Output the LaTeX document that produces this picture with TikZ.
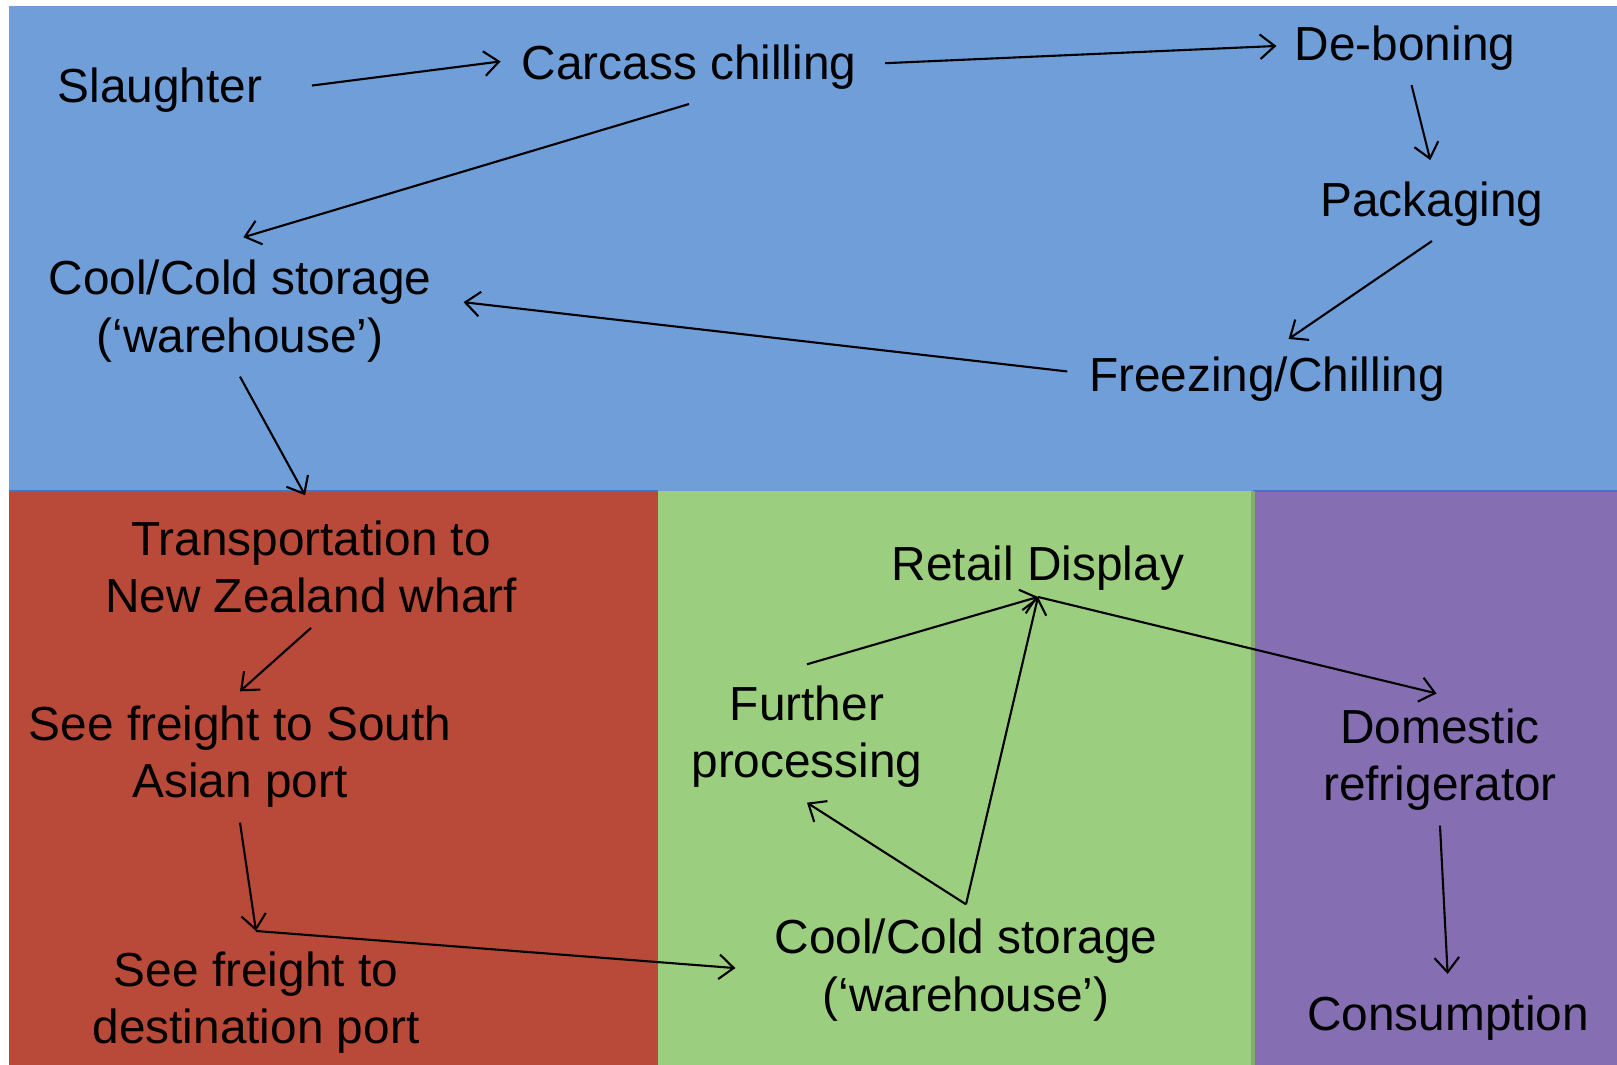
\documentclass[tikz,border=0pt]{standalone}
\usepackage{fontspec}
\setmainfont{Liberation Sans}
\usetikzlibrary{arrows.meta}

\definecolor{plantblue}{RGB}{111,158,216}
\definecolor{shipred}{RGB}{185,74,57}
\definecolor{shopgreen}{RGB}{155,206,127}
\definecolor{homepurple}{RGB}{133,111,178}
\definecolor{rimblue}{RGB}{68,114,196}
\definecolor{rimgreen}{RGB}{128,176,104}

\tikzset{
  stage/.style={font=\fontsize{13.6}{16.3}\selectfont, align=center, inner sep=4pt},
  flow/.style={-{Straight Barb[length=4.2pt,width=7pt]}, line width=0.6pt},
}

\begin{document}
\begin{tikzpicture}[x=0.1mm,y=-0.1mm]

\useasboundingbox (0,0) rectangle (1617,1065) ;

\fill[plantblue] (9,6) rectangle (1617,491) ;
\fill[shipred] (9,491) rectangle (658,1065) ;
\fill[shopgreen] (658,491) rectangle (1253,1065) ;
\fill[homepurple] (1253,491) rectangle (1617,1065) ;
\draw[rimblue,line width=0.6pt] (9,491) -- (658,491) ;
\draw[rimblue,line width=0.6pt] (1253,491) -- (1617,491) ;
\draw[rimgreen,line width=0.9pt] (1253,491) -- (1253,1065) ;

\node[stage] (slaughter) at (160,90) {Slaughter} ;
\node[stage] (carcass) at (689,67) {Carcass chilling} ;
\node[stage] (deboning) at (1405,48) {De-boning} ;
\node[stage] (packaging) at (1432,204) {Packaging} ;
\node[stage] (freezing) at (1267,379) {Freezing/Chilling} ;
\node[stage] (store) at (240,311) {Cool/Cold storage\\(‘warehouse’)} ;

\node[stage] (truck) at (311,567) {Transportation to\\New Zealand wharf} ;
\node[stage] (seaasia) at (240,757) {See freight to South\\Asian port} ;
\node[stage] (seadest) at (256,1003) {See freight to\\destination port} ;
\coordinate (dock) at (256,931) ;

\node[stage,inner ysep=1.7pt] (retail) at (1038,568) {Retail Display} ;
\node[stage] (further) at (807,737) {Further\\processing} ;
\node[stage] (depot) at (966,970) {Cool/Cold storage\\(‘warehouse’)} ;

\node[stage] (fridge) at (1440,760) {Domestic\\refrigerator} ;
\node[stage] (eat) at (1448,1018) {Consumption} ;

\draw[flow,shorten <=10pt,shorten >=1.8pt] (slaughter.east) -- (carcass.178) ;
\draw[flow,shorten <=4pt,shorten >=1pt] (carcass.1) -- (deboning.179) ;
\draw[flow,shorten >=2pt] (deboning.-80) -- (packaging.north) ;
\draw[flow,shorten >=1.5pt] (packaging.south) -- (freezing.65) ;
\draw[flow,shorten <=2pt,shorten >=5pt] (freezing.178) -- (store.3) ;
\draw[flow,shorten >=1pt] (carcass.south) -- ([yshift=2pt]store.north) ;
\draw[flow,shorten >=3.5pt] (store.south) -- (truck.north) ;
\draw[flow] (truck.south) -- (seaasia.north) ;
\draw[flow] (seaasia.south) -- (dock) ;
\draw[flow,shorten >=7pt] (dock) -- (depot.west) ;

\draw[flow] (depot.north) -- (further.south) ;
\draw[flow] (depot.north) -- (retail.south) ;
\draw[flow] ([yshift=2pt]further.north) -- (retail.south) ;
\draw[flow,shorten >=1pt] (retail.south) -- (fridge.north) ;
\draw[flow,shorten >=2pt] (fridge.south) -- (eat.north) ;

\end{tikzpicture}
\end{document}
